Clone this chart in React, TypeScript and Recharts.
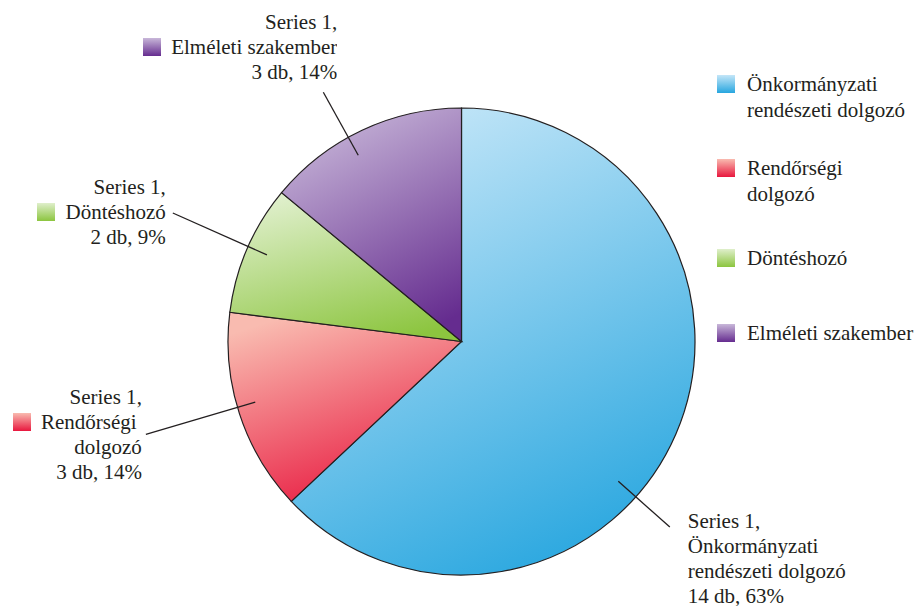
import { PieChart, Pie, Cell, Legend } from "recharts";

const seriesName = "Series 1";
const categories = ["Önkormányzati\nrendészeti dolgozó", "Rendőrségi \ndolgozó", "Döntéshozó", "Elméleti szakember"];
const counts = [14, 3, 2, 3];
const percents = [63, 14, 9, 14];
const lightColors = ["#c4e6f8", "#f9bbb0", "#dfefcb", "#c8b7d9"];
const darkColors = ["#27a6df", "#e8173e", "#8cc53f", "#652c8f"];

const data = categories.map((name, i) => ({ name, value: percents[i], count: counts[i] }));

const textColor = "#231f20";
const fontFamily = "Liberation Serif";

// leader line / label box placement per slice
const labelLayout = [
    { shift: -18.3, r1: 210, r2: 279, dx: 18, dy: -6, align: "left" },
    { shift: -1.6, r1: 215, r2: 329, dx: -4, dy: -37, align: "right" },
    { shift: -0.6, r1: 213, r2: 316, dx: -7, dy: -25, align: "right" },
    { shift: 3.8, r1: 213, r2: 285, dx: 14, dy: -70, align: "right" },
];

const legendGaps = [0, 32, 38, 49];

const RAD = Math.PI / 180;

function swatch(i: number) {
    return {
        display: "inline-block",
        width: 18,
        height: 18,
        background: `linear-gradient(to bottom, ${lightColors[i]}, ${darkColors[i]})`,
    } as const;
}

function renderLabel(props: any) {
    const { cx, cy, midAngle, index } = props;
    const cfg = labelLayout[index];
    const a = (midAngle + cfg.shift) * RAD;
    const x1 = cx + cfg.r1 * Math.cos(a);
    const y1 = cy - cfg.r1 * Math.sin(a);
    const x2 = cx + cfg.r2 * Math.cos(a);
    const y2 = cy - cfg.r2 * Math.sin(a);
    const ax = x2 + cfg.dx;
    const ay = y2 + cfg.dy;
    const boxW = 300;
    const fx = cfg.align === "right" ? ax - boxW : ax;
    const nameLines = categories[index].split("\n");
    return (
        <g key={`lbl-${index}`}>
            <line x1={x1} y1={y1} x2={x2} y2={y2} stroke={textColor} strokeWidth={1.3} />
            <foreignObject x={fx} y={ay - 12.5} width={boxW} height={130}>
                <div
                    style={{
                        fontFamily,
                        fontSize: 21,
                        lineHeight: "25px",
                        color: textColor,
                        textAlign: cfg.align as any,
                        whiteSpace: "pre",
                    }}
                >
                    <div>{seriesName},</div>
                    {nameLines.map((ln, j) => (
                        <div key={j}>
                            <span style={{ position: "relative" }}>
                                {j === 0 && (
                                    <span style={{ ...swatch(index), position: "absolute", left: -28, top: 3 }} />
                                )}
                                {ln}
                            </span>
                        </div>
                    ))}
                    <div>
                        {counts[index]} db, {percents[index]}%
                    </div>
                </div>
            </foreignObject>
        </g>
    );
}

function renderLegend() {
    return (
        <div style={{ fontFamily, fontSize: 21, lineHeight: "26px", color: textColor }}>
            {categories.map((name, i) => (
                <div key={i} style={{ display: "flex", alignItems: "flex-start", marginTop: legendGaps[i] }}>
                    <span style={{ ...swatch(i), marginTop: 4, marginRight: 12, flex: "none" }} />
                    <span style={{ whiteSpace: "pre-line" }}>{name}</span>
                </div>
            ))}
        </div>
    );
}

export default function App() {
    return (
        <div style={{ fontFamily }}>
            <style>{`body{margin:0;background:#fff}`}</style>
            <PieChart width={916} height={606} margin={{ top: 0, right: 0, bottom: 0, left: 0 }}>
                <defs>
                    {lightColors.map((c, i) => (
                        <linearGradient key={i} id={`grad-${i}`} x1="0.3" y1="0" x2="0.7" y2="1">
                            <stop offset="0%" stopColor={c} />
                            <stop offset="100%" stopColor={darkColors[i]} />
                        </linearGradient>
                    ))}
                </defs>
                <Pie
                    data={data}
                    dataKey="value"
                    nameKey="name"
                    cx={461.5}
                    cy={341.5}
                    outerRadius={233.5}
                    startAngle={90}
                    endAngle={-270}
                    stroke={textColor}
                    strokeWidth={1.2}
                    label={renderLabel}
                    labelLine={false}
                    isAnimationActive={false}
                >
                    {data.map((entry, index) => (
                        <Cell key={`cell-${index}`} fill={`url(#grad-${index})`} />
                    ))}
                </Pie>
                <Legend
                    content={renderLegend}
                    layout="vertical"
                    align="right"
                    verticalAlign="top"
                    wrapperStyle={{ top: 71, left: 717, right: "auto", width: 199 }}
                />
            </PieChart>
        </div>
    );
}
